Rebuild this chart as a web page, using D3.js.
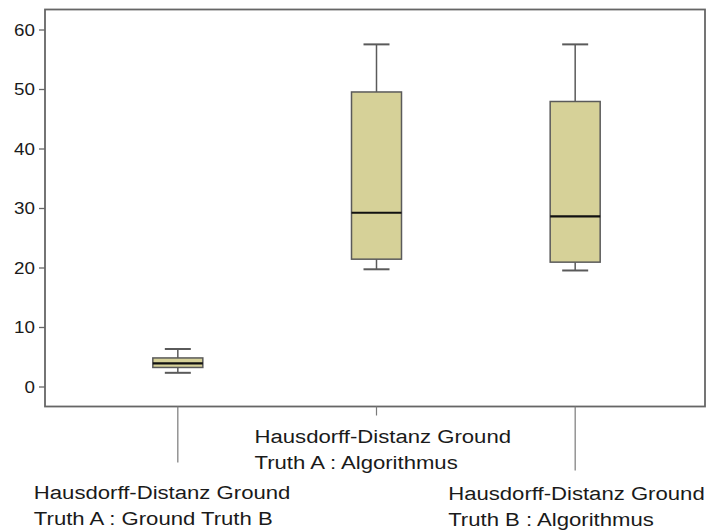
<!DOCTYPE html>
<html>
<head>
<meta charset="utf-8">
<script src="https://cdn.jsdelivr.net/npm/d3@7"></script>
<style>
  html, body { margin: 0; padding: 0; background: #fff; }
  svg { display: block; }
</style>
</head>
<body>
<div id="chart"></div>
<script>
// ---- data ----
const categories = ["HA_GTB", "HA_ALG", "HB_ALG"];
const labelLines = [
  ["Hausdorff-Distanz Ground", "Truth A : Ground Truth B"],
  ["Hausdorff-Distanz Ground", "Truth A : Algorithmus"],
  ["Hausdorff-Distanz Ground", "Truth B : Algorithmus"]
];
const whiskerLow  = [2.3, 19.7, 19.5];
const quartile1   = [3.2, 21.4, 20.9];
const medians     = [3.9, 29.2, 28.6];
const quartile3   = [4.8, 49.5, 47.9];
const whiskerHigh = [6.3, 57.5, 57.5];
const yTicks = [0, 10, 20, 30, 40, 50, 60];

// ---- layout ----
const W = 707, H = 530;
const frame = { left: 45, right: 705, top: 9.5, bottom: 406.5 };
const stretch = 1.14;
const labelStretch = 1.165;
// per-category label placement relative to tick: [x offset of left edge, baseline of first line]
const labelPlace = [[-144, 499], [-122, 443], [-127, 500]];
const tickDrop = [56, 9, 64];
const lineGap = 25.5;

const svg = d3.select("#chart").append("svg").attr("width", W).attr("height", H);

const y = d3.scaleLinear().domain([0, 60]).range([386.5, 29.5]);
const x = d3.scalePoint().domain(categories).range([frame.left + 1.5, frame.right + 1.5]).padding(0.661);

const rows = categories.map((c, i) => ({
  c, lo: whiskerLow[i], q1: quartile1[i], med: medians[i], q3: quartile3[i], hi: whiskerHigh[i],
  lines: labelLines[i], place: labelPlace[i], drop: tickDrop[i]
}));

// frame
svg.append("rect")
  .attr("x", frame.left).attr("y", frame.top)
  .attr("width", frame.right - frame.left).attr("height", frame.bottom - frame.top)
  .attr("fill", "none").attr("stroke", "#666").attr("stroke-width", 1.8);

// y axis
const yAxis = d3.axisLeft(y).tickValues(yTicks).tickSize(6).tickPadding(4).tickFormat(d3.format("d"));
const ya = svg.append("g").attr("transform", `translate(${frame.left},0)`).call(yAxis);
ya.select(".domain").remove();
ya.selectAll(".tick line").attr("stroke", "#666").attr("stroke-width", 1.3);
ya.selectAll(".tick text")
  .attr("fill", "#1a1a1a")
  .style("font-family", "'Liberation Sans', Arial, sans-serif")
  .style("font-size", "16.5px")
  .attr("dy", "0.35em")
  .each(function () {
    const t = d3.select(this);
    const xx = +t.attr("x") || -10;
    t.attr("x", null).attr("transform", `translate(${xx},0) scale(${stretch},1)`);
  });

// x axis ticks (hanging lines)
const xg = svg.append("g");
xg.selectAll("line.xt").data(rows).join("line")
  .attr("class", "xt")
  .attr("x1", d => x(d.c)).attr("x2", d => x(d.c))
  .attr("y1", frame.bottom).attr("y2", d => frame.bottom + d.drop)
  .attr("stroke", "#7a7a7a").attr("stroke-width", 1.2);

// labels
rows.forEach(d => {
  d.lines.forEach((ln, j) => {
    svg.append("text")
      .attr("transform", `translate(${x(d.c) + d.place[0]},${d.place[1] + j * lineGap}) scale(${labelStretch},1)`)
      .attr("fill", "#1a1a1a")
      .style("font-family", "'Liberation Sans', Arial, sans-serif")
      .style("font-size", "19px")
      .text(ln);
  });
});

// boxes
const boxW = 50, capW = 26;
const g = svg.append("g");
const bx = g.selectAll("g.box").data(rows).join("g").attr("class", "box");
const stroke = "#5a5a5a";
bx.append("line")
  .attr("x1", d => x(d.c)).attr("x2", d => x(d.c))
  .attr("y1", d => y(d.hi)).attr("y2", d => y(d.q3))
  .attr("stroke", stroke).attr("stroke-width", 1.5);
bx.append("line")
  .attr("x1", d => x(d.c)).attr("x2", d => x(d.c))
  .attr("y1", d => y(d.q1)).attr("y2", d => y(d.lo))
  .attr("stroke", stroke).attr("stroke-width", 1.5);
bx.append("line")
  .attr("x1", d => x(d.c) - capW / 2).attr("x2", d => x(d.c) + capW / 2)
  .attr("y1", d => y(d.hi)).attr("y2", d => y(d.hi))
  .attr("stroke", stroke).attr("stroke-width", 2);
bx.append("line")
  .attr("x1", d => x(d.c) - capW / 2).attr("x2", d => x(d.c) + capW / 2)
  .attr("y1", d => y(d.lo)).attr("y2", d => y(d.lo))
  .attr("stroke", stroke).attr("stroke-width", 2);
bx.append("rect")
  .attr("x", d => x(d.c) - boxW / 2).attr("width", boxW)
  .attr("y", d => y(d.q3)).attr("height", d => y(d.q1) - y(d.q3))
  .attr("fill", "#d6d198").attr("stroke", stroke).attr("stroke-width", 1.5);
bx.append("line")
  .attr("x1", d => x(d.c) - boxW / 2).attr("x2", d => x(d.c) + boxW / 2)
  .attr("y1", d => y(d.med)).attr("y2", d => y(d.med))
  .attr("stroke", "#111").attr("stroke-width", 2.2);
</script>
</body>
</html>
